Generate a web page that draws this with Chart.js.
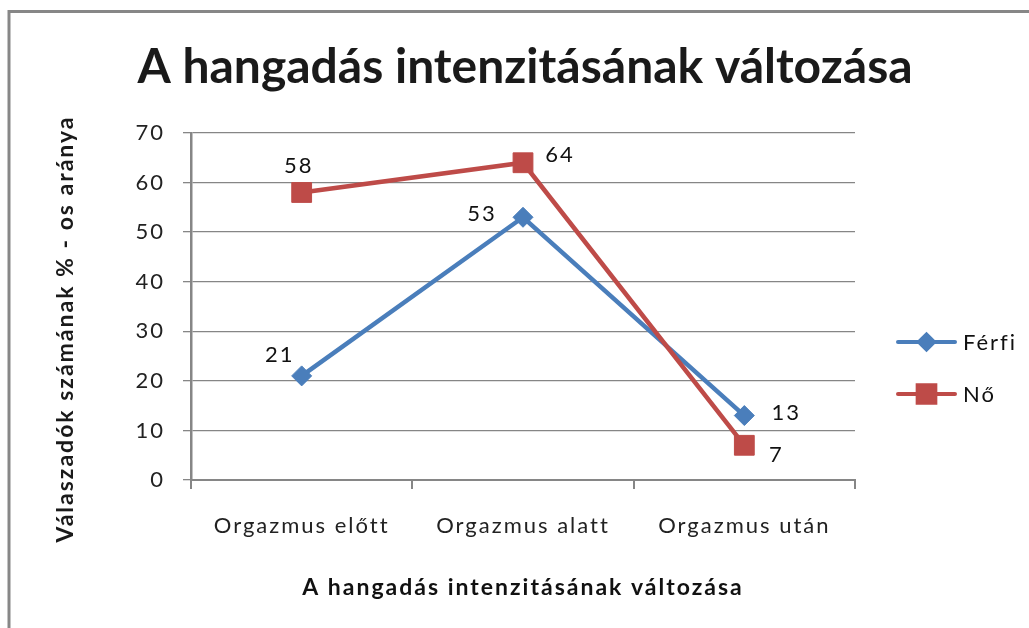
<!DOCTYPE html>
<html>
<head>
<meta charset="utf-8">
<script src="https://cdn.jsdelivr.net/npm/chart.js@4.4.0/dist/chart.umd.min.js"></script>
<style>
  html, body { margin: 0; padding: 0; background: #fff; }
  #wrap { position: relative; width: 1029px; height: 628px; }
</style>
</head>
<body>
<div id="wrap"><canvas id="chart" width="1029" height="628"></canvas></div>
<script>
// A hangadás intenzitásának változása - line chart
const chartTitle = 'A hangadás intenzitásának változása';
const xAxisTitle = 'A hangadás intenzitásának változása';
const yAxisTitle = 'Válaszadók számának % - os aránya';
const categories = ['Orgazmus előtt', 'Orgazmus alatt', 'Orgazmus után'];
const seriesNames = ['Férfi', 'Nő'];
const ferfiValues = [21, 53, 13];
const noValues = [58, 64, 7];
const yTicks = [0, 10, 20, 30, 40, 50, 60, 70];

const FONT = 'Lato, "Open Sans", sans-serif';
const BLUE = '#4a7ebb';
const RED = '#be4b48';
const GRID = '#868686';
const SPACING = '2px'; // the old Excel rendering spreads letters a bit

// where each value label sits relative to its point (px), per series
const labelOffsets = [
  [[-22, -21], [-41, -3], [42, -3]],
  [[-3, -27], [37, -8], [32, 10]]
];

Chart.defaults.font.family = FONT;

const decor = {
  id: 'decor',
  beforeDraw(chart) {
    const ctx = chart.ctx;
    ctx.letterSpacing = SPACING; // kept for the axis text chart.js draws next
    ctx.save();
    ctx.fillStyle = '#fff';
    ctx.fillRect(0, 0, chart.width, chart.height);

    // outer frame (only top and left edges are visible)
    ctx.strokeStyle = '#878787';
    ctx.lineWidth = 3;
    ctx.beginPath();
    ctx.moveTo(9, chart.height + 5);
    ctx.lineTo(9, 11.5);
    ctx.lineTo(chart.width + 5, 11.5);
    ctx.stroke();

    // chart title
    ctx.letterSpacing = '0px';
    ctx.fillStyle = '#1a1a1a';
    ctx.font = 'bold 48px ' + FONT;
    ctx.textAlign = 'center';
    ctx.textBaseline = 'alphabetic';
    ctx.fillText(chartTitle, 525, 83);

    // y axis title
    ctx.letterSpacing = SPACING;
    ctx.translate(66, 329);
    ctx.rotate(-Math.PI / 2);
    ctx.font = 'bold 23px ' + FONT;
    ctx.textBaseline = 'middle';
    ctx.fillText(yAxisTitle, 0, 0);
    ctx.restore();
  },
  afterDatasetsDraw(chart) {
    const ctx = chart.ctx;
    ctx.save();
    ctx.letterSpacing = SPACING;

    // value labels
    ctx.fillStyle = '#111';
    ctx.font = '22px ' + FONT;
    ctx.textAlign = 'center';
    ctx.textBaseline = 'middle';
    chart.data.datasets.forEach((ds, i) => {
      chart.getDatasetMeta(i).data.forEach((pt, j) => {
        const off = labelOffsets[i][j];
        ctx.fillText(String(ds.data[j]), pt.x + off[0], pt.y + off[1]);
      });
    });

    // legend: line with marker, then name
    const legendY = [342, 394];
    chart.data.datasets.forEach((ds, i) => {
      const y = legendY[i];
      ctx.strokeStyle = ds.borderColor;
      ctx.lineWidth = 4;
      ctx.lineCap = 'round';
      ctx.beginPath();
      ctx.moveTo(898, y);
      ctx.lineTo(955, y);
      ctx.stroke();
      Chart.helpers.drawPoint(ctx, {
        pointStyle: ds.pointStyle,
        radius: i === 0 ? 7.5 : 12.5,
        borderWidth: 1,
        rotation: 0
      }, 926.5, y);
      ctx.fillStyle = ds.backgroundColor;
      ctx.strokeStyle = ds.borderColor;
      ctx.fill();
      ctx.fillStyle = '#111';
      ctx.font = '22px ' + FONT;
      ctx.textAlign = 'left';
      ctx.textBaseline = 'middle';
      ctx.fillText(ds.label, 963, y + 1);
    });
    ctx.restore();
  }
};

new Chart(document.getElementById('chart'), {
  type: 'line',
  data: {
    labels: categories,
    datasets: [
      {
        label: seriesNames[0],
        data: ferfiValues,
        borderColor: BLUE,
        backgroundColor: BLUE,
        borderWidth: 4.5,
        pointStyle: 'rectRot',
        pointRadius: 10,
        pointBorderWidth: 1,
        pointBorderColor: BLUE,
        pointBackgroundColor: BLUE,
        tension: 0,
        order: 1
      },
      {
        label: seriesNames[1],
        data: noValues,
        borderColor: RED,
        backgroundColor: RED,
        borderWidth: 4.5,
        pointStyle: 'rect',
        pointRadius: 14,
        pointBorderWidth: 1,
        pointBorderColor: RED,
        pointBackgroundColor: RED,
        tension: 0,
        order: 0
      }
    ]
  },
  options: {
    responsive: false,
    animation: false,
    clip: false,
    layout: { padding: { top: 133, right: 174, left: 0, bottom: 0 } },
    plugins: {
      legend: { display: false },
      title: { display: false },
      tooltip: { enabled: false }
    },
    scales: {
      x: {
        offset: true,
        grid: {
          display: true,
          drawOnChartArea: false,
          drawTicks: true,
          tickLength: 9,
          offset: true,
          color: GRID,
          lineWidth: 2
        },
        border: { display: true, color: GRID, width: 2 },
        ticks: { color: '#222', font: { size: 22 }, padding: 24, maxRotation: 0 },
        title: {
          display: true,
          text: xAxisTitle,
          color: '#111',
          font: { size: 23, weight: 'bold' },
          padding: { top: 0, bottom: 27 }
        },
        afterFit(s) { s.height = 148; }
      },
      y: {
        min: 0,
        max: 70,
        afterBuildTicks(s) { s.ticks = yTicks.map(v => ({ value: v })); },
        grid: { color: GRID, lineWidth: 1.3, tickLength: 8 },
        border: { color: GRID, width: 2.5 },
        ticks: { color: '#222', font: { size: 22 }, padding: 18 },
        afterFit(s) { s.width = 191; }
      }
    }
  },
  plugins: [decor]
});
</script>
</body>
</html>
